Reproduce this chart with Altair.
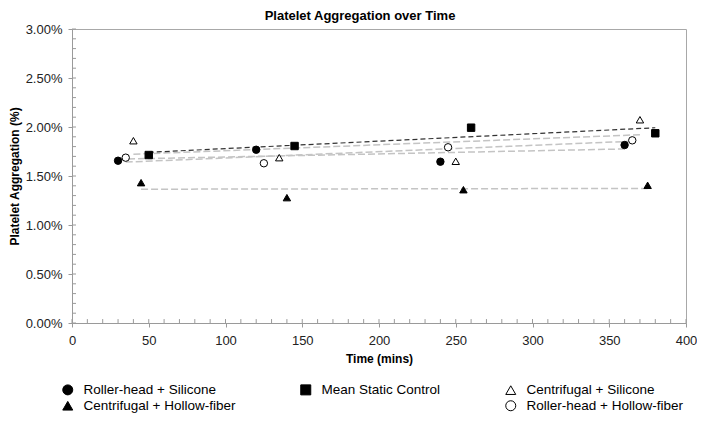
import altair as alt
import pandas as pd

FONT = "Liberation Sans"

# ---- data (percent values) ----
times_rs = [30, 120, 240, 360]
vals_rs = [1.656, 1.768, 1.646, 1.816]          # Roller-head + Silicone
times_msc = [50, 145, 260, 380]
vals_msc = [1.714, 1.806, 1.993, 1.936]         # Mean Static Control
times_cs = [40, 135, 250, 370]
vals_cs = [1.860, 1.687, 1.650, 2.074]          # Centrifugal + Silicone
times_chf = [45, 140, 255, 375]
vals_chf = [1.432, 1.279, 1.360, 1.405]         # Centrifugal + Hollow-fiber
times_rhf = [35, 125, 245, 365]
vals_rhf = [1.687, 1.630, 1.793, 1.864]         # Roller-head + Hollow-fiber

# legend entries (filled column by column, two rows)
legend_order = ["Roller-head + Silicone", "Centrifugal + Hollow-fiber",
                "Mean Static Control", " ",
                "Centrifugal + Silicone", "Roller-head + Hollow-fiber"]
shape_range = ["circle", "triangle-up", "square", "circle", "triangle-up", "circle"]
fill_range = ["black", "black", "black", "transparent", "white", "white"]
stroke_range = ["black", "black", "black", "transparent", "black", "black"]

x_ticks_major = [0, 50, 100, 150, 200, 250, 300, 350, 400]
y_ticks_major = [0, 0.5, 1.0, 1.5, 2.0, 2.5, 3.0]
x_ticks_minor = list(range(0, 401, 10))
y_ticks_minor = [round(i * 0.1, 1) for i in range(31)]

rows = []
for name, ts, vs in [
    ("Roller-head + Silicone", times_rs, vals_rs),
    ("Mean Static Control", times_msc, vals_msc),
    ("Centrifugal + Silicone", times_cs, vals_cs),
    ("Centrifugal + Hollow-fiber", times_chf, vals_chf),
    ("Roller-head + Hollow-fiber", times_rhf, vals_rhf),
]:
    for t, v in zip(ts, vs):
        rows.append({"series": name, "time": t, "value": v})
df = pd.DataFrame(rows)

XT = "Time (mins)"
YT = "Platelet Aggregation (%)"
xscale = alt.Scale(domain=[0, 400], nice=False)
yscale = alt.Scale(domain=[0, 3], nice=False)

x_axis = alt.Axis(values=x_ticks_major, grid=False, tickSize=4, labelPadding=7,
                  titlePadding=6, labelFlush=False)
y_axis = alt.Axis(values=y_ticks_major, grid=False, tickSize=4, labelPadding=6,
                  labelExpr="format(datum.value, '.2f') + '%'", titlePadding=4,
                  labelFlush=False)

X = alt.X("time:Q", scale=xscale, axis=x_axis, title=XT)
Y = alt.Y("value:Q", scale=yscale, axis=y_axis, title=YT)

# inner tick marks
xt = alt.Chart(pd.DataFrame({"time": x_ticks_minor})).mark_rule(
    color="#9a9a9a", strokeWidth=1
).encode(x=alt.X("time:Q", title=XT), y=alt.datum(0), y2=alt.datum(0.04))

yt = alt.Chart(pd.DataFrame({"value": y_ticks_minor})).mark_rule(
    color="#9a9a9a", strokeWidth=1
).encode(y=alt.Y("value:Q", title=YT), x=alt.datum(0), x2=alt.datum(2.6))

trend_gray = alt.Chart(df).transform_filter(
    alt.datum.series != "Mean Static Control"
).transform_regression("time", "value", groupby=["series"]).mark_line(
    color="#c4c4c4", strokeDash=[7, 3], strokeWidth=1.5
).encode(x=alt.X("time:Q", title=XT), y=alt.Y("value:Q", title=YT), detail="series:N")

trend_black = alt.Chart(df).transform_filter(
    alt.datum.series == "Mean Static Control"
).transform_regression("time", "value", groupby=["series"]).mark_line(
    color="#333333", strokeDash=[5, 3], strokeWidth=1.2
).encode(x=alt.X("time:Q", title=XT), y=alt.Y("value:Q", title=YT), detail="series:N")

leg = alt.Legend(title=None, orient="none", legendX=-11, legendY=354, columns=3,
                 columnPadding=62, rowPadding=1, symbolSize=100, labelFontSize=13.5,
                 labelFont=FONT, labelColor="black", labelOffset=9, symbolStrokeWidth=1,
                 padding=0)

points = alt.Chart(df).mark_point(filled=True, size=55, strokeWidth=1, opacity=1).encode(
    x=X, y=Y,
    shape=alt.Shape("series:N", scale=alt.Scale(domain=legend_order, range=shape_range),
                    legend=leg, title=None),
    fill=alt.Fill("series:N", scale=alt.Scale(domain=legend_order, range=fill_range),
                  legend=leg, title=None),
    stroke=alt.Stroke("series:N", scale=alt.Scale(domain=legend_order, range=stroke_range),
                      legend=leg, title=None),
)

chart = alt.layer(xt, yt, trend_gray, trend_black, points).properties(
    width=614, height=294,
    autosize=alt.AutoSizeParams(type="none"),
    padding={"left": 64, "top": 21, "right": 11, "bottom": 91},
    title=alt.TitleParams("Platelet Aggregation over Time", fontSize=13, fontWeight="bold",
                          anchor="middle", dx=-19, offset=0, font=FONT, color="black"),
).configure_view(stroke="#a8a8a8", strokeWidth=1).configure_axis(
    labelFont=FONT, labelFontSize=13, labelColor="#222222",
    titleFont=FONT, titleFontSize=12, titleFontWeight="bold", titleColor="black",
    domainColor="#9a9a9a", tickColor="#9a9a9a",
)

chart.save("out.html", embed_options={"renderer": "svg", "actions": False})
